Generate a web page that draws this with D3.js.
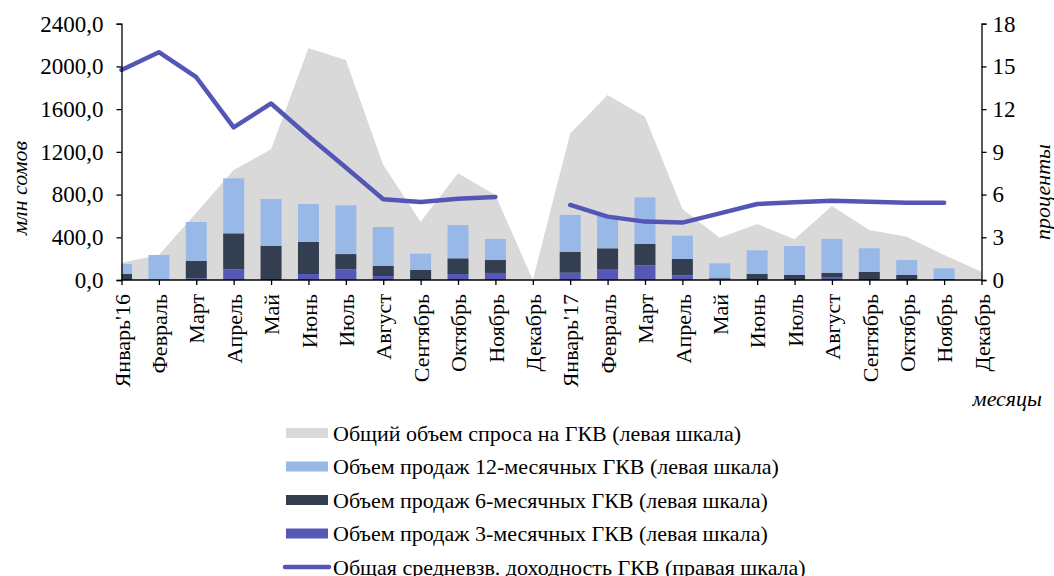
<!DOCTYPE html>
<html>
<head>
<meta charset="utf-8">
<script src="https://cdn.jsdelivr.net/npm/d3@7"></script>
<style>
  body { margin: 0; background: #fff; }
  text { font-family: "Liberation Serif", "Times New Roman", serif; fill: #000; }
</style>
</head>
<body>
<div id="chart"></div>
<script>
// months (Jan'16 .. Dec'17)
const months = ["Январь'16", "Февраль", "Март", "Апрель", "Май", "Июнь", "Июль", "Август", "Сентябрь", "Октябрь", "Ноябрь", "Декабрь",
  "Январь'17", "Февраль", "Март", "Апрель", "Май", "Июнь", "Июль", "Август", "Сентябрь", "Октябрь", "Ноябрь", "Декабрь"];

// total demand, mln som (area)
const demand = [162, 234, 630, 1030, 1224, 2169, 2060, 1077, 546, 999, 796, 0,
  1373, 1732, 1529, 665, 396, 524, 381, 693, 468, 406, 234, 78];

// sales by maturity, mln som (stacked bars)
const sales3m = [0, 0, 16, 100, 0, 56, 100, 37, 0, 56, 66, 0,
  68, 103, 137, 44, 15, 0, 0, 28, 0, 0, 0, 0];
const sales6m = [56, 0, 162, 337, 321, 300, 143, 97, 94, 147, 121, 0,
  197, 194, 200, 153, 7, 56, 47, 40, 75, 47, 9, 0];
const sales12m = [94, 234, 365, 515, 437, 356, 456, 362, 152, 312, 197, 0,
  344, 305, 437, 218, 134, 222, 271, 316, 222, 140, 100, 0];

// weighted average yield, % (right scale), null = no auction
const yieldPct = [14.75, 16.0, 14.24, 10.72, 12.4, 10.1, 7.9, 5.67, 5.48, 5.71, 5.83, null,
  5.27, 4.45, 4.1, 4.03, 4.68, 5.34, 5.46, 5.57, 5.5, 5.43, 5.43, null];

const leftTicks = [0, 400, 800, 1200, 1600, 2000, 2400];
const rightTicks = [0, 3, 6, 9, 12, 15, 18];

const legendLabels = [
  "Общий объем спроса на ГКВ (левая шкала)",
  "Объем продаж 12-месячных ГКВ (левая шкала)",
  "Объем продаж 6-месячных ГКВ (левая шкала)",
  "Объем продаж 3-месячных ГКВ (левая шкала)",
  "Общая средневзв. доходность ГКВ (правая шкала)"
];

const colArea = "#d9d9d9", col12 = "#98b9e7", col6 = "#333f50", col3 = "#5657b7", colLine = "#5456b6";

const width = 1054, height = 576;
const plot = {left: 121.5, right: 981.5, top: 23.7, bottom: 280};

const svg = d3.select("#chart").append("svg")
  .attr("width", width)
  .attr("height", height);

const idx = d3.range(months.length);
const x = d3.scalePoint().domain(idx).range([plot.left, plot.right]).padding(0);
const y = d3.scaleLinear().domain([0, 2400]).range([plot.bottom, plot.top]);
const y2 = d3.scaleLinear().domain([0, 18]).range([plot.bottom, plot.top]);

svg.append("clipPath").attr("id", "clip")
  .append("rect")
  .attr("x", plot.left).attr("y", 0)
  .attr("width", plot.right - plot.left).attr("height", plot.bottom);

// area
const area = d3.area()
  .x((d, i) => x(i))
  .y0(y(0))
  .y1(d => y(d));
svg.append("path")
  .datum(demand)
  .attr("d", area)
  .attr("fill", colArea);

// stacked bars
const rows = idx.map(i => ({i, s3: sales3m[i], s6: sales6m[i], s12: sales12m[i]}));
const stack = d3.stack().keys(["s3", "s6", "s12"])(rows);
const colors = {s3: col3, s6: col6, s12: col12};
const barW = 21;

const bars = svg.append("g").attr("clip-path", "url(#clip)");
stack.forEach(layer => {
  bars.append("g")
    .attr("fill", colors[layer.key])
    .selectAll("rect")
    .data(layer.filter(d => d[1] - d[0] > 0))
    .join("rect")
    .attr("x", d => x(d.data.i) - barW / 2)
    .attr("y", d => y(d[1]))
    .attr("width", barW)
    .attr("height", d => y(d[0]) - y(d[1]));
});

// yield line
const line = d3.line()
  .defined(d => d != null)
  .x((d, i) => x(i))
  .y(d => y2(d));
svg.append("path")
  .datum(yieldPct)
  .attr("d", line)
  .attr("fill", "none")
  .attr("stroke", colLine)
  .attr("stroke-width", 4.5)
  .attr("stroke-linecap", "round")
  .attr("stroke-linejoin", "round");

// axes
const axisLeft = svg.append("g")
  .attr("transform", `translate(${plot.left},0)`)
  .call(d3.axisLeft(y).tickValues(leftTicks).tickSize(5).tickPadding(13)
    .tickFormat(d => d3.format(".1f")(d).replace(".", ",")));

const axisRight = svg.append("g")
  .attr("transform", `translate(${plot.right},0)`)
  .call(d3.axisRight(y2).tickValues(rightTicks).tickSize(5).tickPadding(6));

const axisBottom = svg.append("g")
  .attr("transform", `translate(0,${plot.bottom})`)
  .call(d3.axisBottom(x).tickSize(5).tickFormat(i => months[i]));

[axisLeft, axisRight, axisBottom].forEach(g => {
  g.select(".domain").attr("stroke", "#000").attr("stroke-width", 1.3);
  g.selectAll(".tick line").attr("stroke", "#000").attr("stroke-width", 1.3);
});
axisLeft.selectAll("text").style("font-size", "23px").attr("font-family", null);
axisRight.selectAll("text").style("font-size", "23px").attr("font-family", null);
axisBottom.selectAll("text")
  .style("font-size", "22px")
  .attr("font-family", null)
  .attr("transform", "rotate(-90)")
  .attr("text-anchor", "end")
  .attr("x", -14)
  .attr("y", 0)
  .attr("dy", "0.35em");
axisBottom.select(".domain").attr("d", `M${plot.left},0H${plot.right}`);

// axis titles
svg.append("text")
  .attr("transform", "translate(27,188) rotate(-90)")
  .attr("text-anchor", "middle")
  .style("font-size", "22px")
  .style("font-style", "italic")
  .text("млн сомов");

svg.append("text")
  .attr("transform", "translate(1050,192) rotate(-90)")
  .attr("text-anchor", "middle")
  .style("font-size", "22px")
  .style("font-style", "italic")
  .text("проценты");

svg.append("text")
  .attr("x", 1042)
  .attr("y", 406)
  .attr("text-anchor", "end")
  .style("font-size", "22px")
  .style("font-style", "italic")
  .text("месяцы");

// legend
const legend = svg.append("g");
const legendY = 433, legendStep = 33.5;
const swatchCols = [colArea, col12, col6, col3];
legendLabels.forEach((lab, k) => {
  const cy = legendY + k * legendStep;
  if (k < 4) {
    legend.append("rect")
      .attr("x", 286).attr("y", cy - 5)
      .attr("width", 42).attr("height", 10)
      .attr("fill", swatchCols[k]);
  } else {
    legend.append("line")
      .attr("x1", 285).attr("x2", 329)
      .attr("y1", cy).attr("y2", cy)
      .attr("stroke", colLine).attr("stroke-width", 4.5)
      .attr("stroke-linecap", "round");
  }
  legend.append("text")
    .attr("x", 333).attr("y", cy)
    .attr("dy", "0.35em")
    .style("font-size", "22px")
    .text(lab);
});
</script>
</body>
</html>
